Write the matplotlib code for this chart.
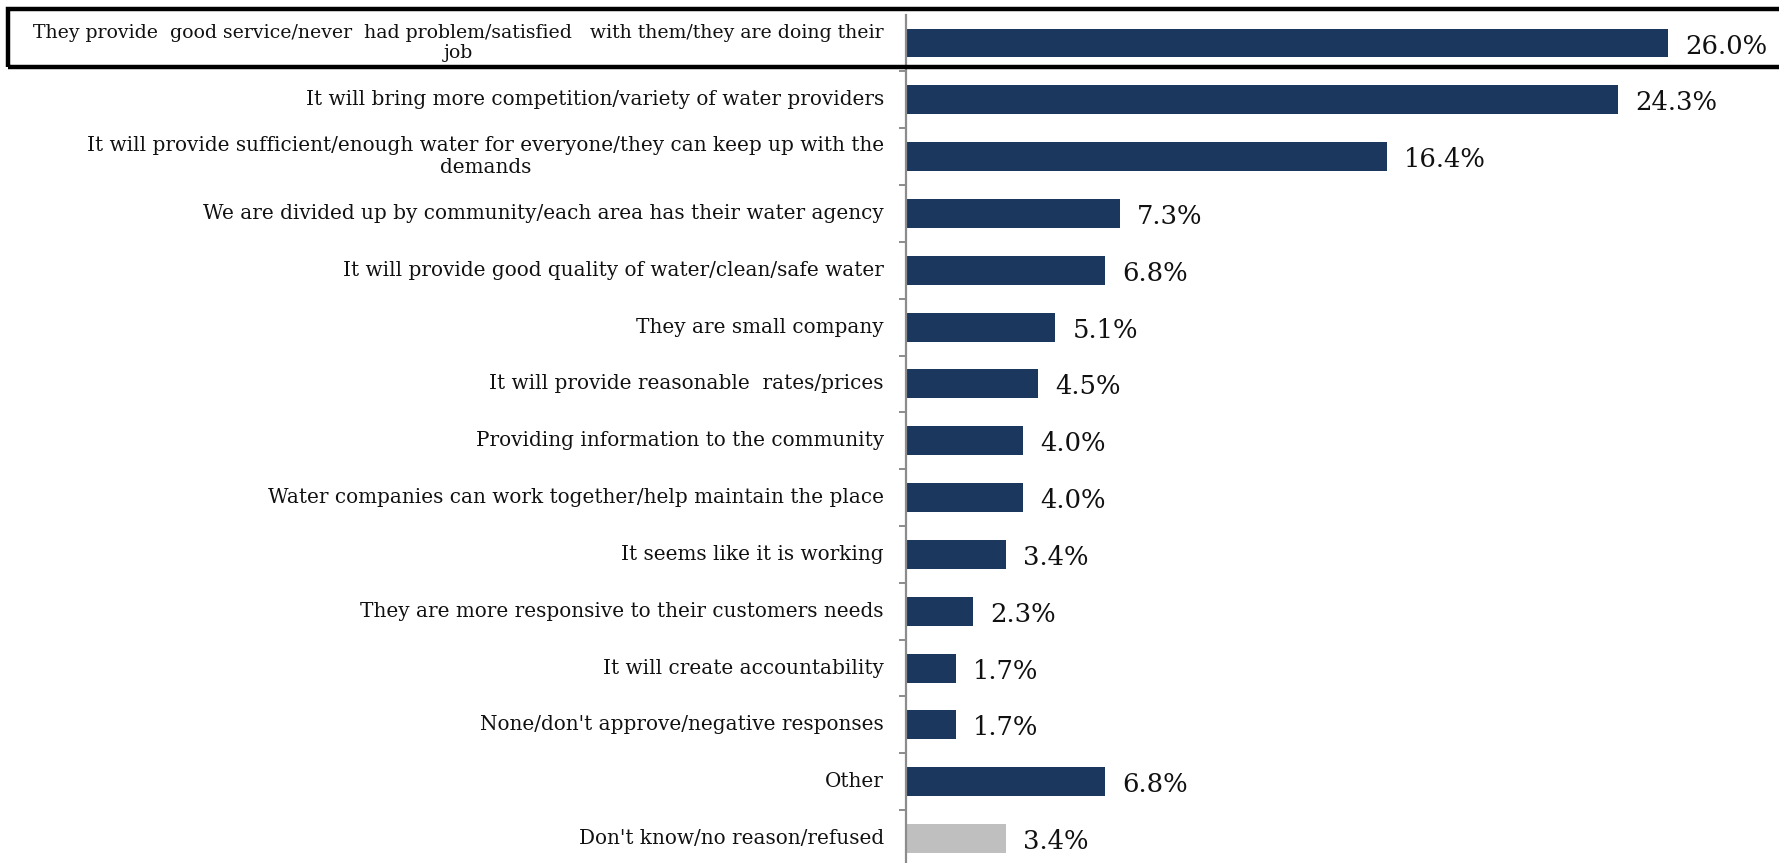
import matplotlib
matplotlib.use("Agg")
import matplotlib.pyplot as plt
from matplotlib.patches import Rectangle

categories = [
    "They provide  good service/never  had problem/satisfied   with them/they are doing their\njob",
    "It will bring more competition/variety of water providers",
    "It will provide sufficient/enough water for everyone/they can keep up with the\ndemands",
    "We are divided up by community/each area has their water agency",
    "It will provide good quality of water/clean/safe water",
    "They are small company",
    "It will provide reasonable  rates/prices",
    "Providing information to the community",
    "Water companies can work together/help maintain the place",
    "It seems like it is working",
    "They are more responsive to their customers needs",
    "It will create accountability",
    "None/don't approve/negative responses",
    "Other",
    "Don't know/no reason/refused",
]
values = [26.0, 24.3, 16.4, 7.3, 6.8, 5.1, 4.5, 4.0, 4.0, 3.4, 2.3, 1.7, 1.7, 6.8, 3.4]
value_labels = ["26.0%", "24.3%", "16.4%", "7.3%", "6.8%", "5.1%", "4.5%", "4.0%",
                "4.0%", "3.4%", "2.3%", "1.7%", "1.7%", "6.8%", "3.4%"]
bar_colors = ["#1B375E"] * 14 + ["#BFBFBF"]

W, H = 1779, 863
fig = plt.figure(figsize=(W / 100, H / 100), dpi=100)

ax_left = 906 / W
ax_width = (W - 906) / W
top_px = 14.6
bot_px = 866.9
ax = fig.add_axes([ax_left, (H - bot_px) / H, ax_width, (bot_px - top_px) / H])

n = len(categories)
ypos = list(range(n))
ax.barh(ypos, values, height=0.51, color=bar_colors, edgecolor="none")
ax.set_ylim(n - 0.5, -0.5)
ax.set_xlim(0, (W - 906) / 29.3)

for s in ["top", "right", "bottom"]:
    ax.spines[s].set_visible(False)
ax.spines["left"].set_color("#8C8C8C")
ax.spines["left"].set_linewidth(1.6)
ax.set_xticks([])
ax.set_yticks([])
ax.set_yticks([i + 0.5 for i in range(n - 1)], minor=True)
ax.tick_params(axis="y", which="minor", direction="out", length=5, width=1.4,
               color="#8C8C8C", labelleft=False)

for i, (lab, v, vl) in enumerate(zip(categories, values, value_labels)):
    fs = 13.6 if i == 0 else 14.4
    ax.annotate(lab, xy=(0, i), xycoords=ax.get_yaxis_transform(),
                xytext=(-22, 0), textcoords="offset pixels",
                ha="right", va="center", multialignment="center",
                fontsize=fs, family="DejaVu Serif", color="#111111",
                linespacing=1.2)
    ax.annotate(vl, xy=(v, i), xycoords="data",
                xytext=(17, -3), textcoords="offset pixels",
                ha="left", va="center", fontsize=18.6, family="DejaVu Serif",
                color="#111111")

# highlight box around first row
box = Rectangle((8 / W, 1 - 67 / H), (W + 20) / W, (67 - 9) / H,
                transform=fig.transFigure, fill=False, edgecolor="black",
                linewidth=3.2, clip_on=False)
fig.patches.append(box)

fig.savefig("out.png", dpi=100)
